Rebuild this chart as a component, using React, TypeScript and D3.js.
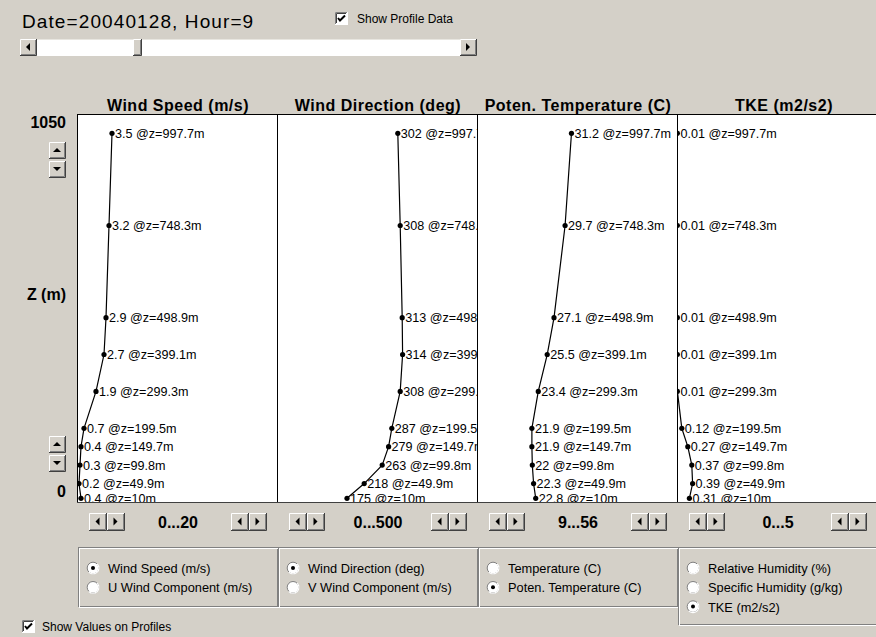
import React from "react";
import * as d3 from "d3";

const HEIGHTS = [997.7, 748.3, 498.9, 399.1, 299.3, 199.5, 149.7, 99.8, 49.9, 10];
const WIND_SPEED = [3.5, 3.2, 2.9, 2.7, 1.9, 0.7, 0.4, 0.3, 0.2, 0.4];
const WIND_DIR = [302, 308, 313, 314, 308, 287, 279, 263, 218, 175];
const POTEN_TEMP = [31.2, 29.7, 27.1, 25.5, 23.4, 21.9, 21.9, 22, 22.3, 22.8];
const TKE = [0.01, 0.01, 0.01, 0.01, 0.01, 0.12, 0.27, 0.37, 0.39, 0.31];

const PANEL_TITLES = ["Wind Speed (m/s)", "Wind Direction (deg)", "Poten. Temperature (C)", "TKE (m2/s2)"];
const RANGE_LABELS = ["0...20", "0...500", "9...56", "0...5"];
const DOMAINS: [number, number][] = [[0, 20], [0, 500], [9, 56], [0, 5]];
const SERIES = [WIND_SPEED, WIND_DIR, POTEN_TEMP, TKE];
const Z_MIN = 0;
const Z_MAX = 1050;

const RADIO_GROUPS = [
  ["Wind Speed (m/s)", "U Wind Component (m/s)"],
  ["Wind Direction (deg)", "V Wind Component (m/s)"],
  ["Temperature (C)", "Poten. Temperature (C)"],
  ["Relative Humidity (%)", "Specific Humidity (g/kg)", "TKE (m2/s2)"],
];
const RADIO_SELECTED = [0, 0, 1, 2];

const FONT = "'Liberation Sans', Arial, sans-serif";
const FACE = "#d4d0c8";

const PANEL_LEFT = 77;
const PANEL_W = 200;
const PANEL_TOP = 114;
const PANEL_BOTTOM = 502;

function Raised({ x, y, w, h }: { x: number; y: number; w: number; h: number }) {
  return (
    <g>
      <rect x={x} y={y} width={w} height={h} fill={FACE} />
      <path d={`M${x + 0.5},${y + h - 1} V${y + 0.5} H${x + w - 1}`} stroke="#fff" fill="none" />
      <path d={`M${x},${y + h - 0.5} H${x + w - 0.5} V${y}`} stroke="#404040" fill="none" />
      <path d={`M${x + 1},${y + h - 1.5} H${x + w - 1.5} V${y + 1}`} stroke="#808080" fill="none" />
    </g>
  );
}

function ArrowBtn({ x, y, w, h, dir }: { x: number; y: number; w: number; h: number; dir: string }) {
  const cx = x + w / 2 - 0.5;
  const cy = y + h / 2 - 0.5;
  let d = "";
  if (dir === "left") d = `M${cx - 2},${cy} L${cx + 2},${cy - 4} L${cx + 2},${cy + 4} Z`;
  if (dir === "right") d = `M${cx + 2},${cy} L${cx - 2},${cy - 4} L${cx - 2},${cy + 4} Z`;
  if (dir === "up") d = `M${cx},${cy - 2} L${cx - 4},${cy + 2} L${cx + 4},${cy + 2} Z`;
  if (dir === "down") d = `M${cx},${cy + 2} L${cx - 4},${cy - 2} L${cx + 4},${cy - 2} Z`;
  return (
    <g>
      <Raised x={x} y={y} w={w} h={h} />
      <path d={d} fill="#000" />
    </g>
  );
}

function CheckBox({ x, y }: { x: number; y: number }) {
  return (
    <g>
      <rect x={x} y={y} width={13} height={13} fill="#fff" />
      <path d={`M${x + 0.5},${y + 12} V${y + 0.5} H${x + 12}`} stroke="#808080" fill="none" />
      <path d={`M${x + 1.5},${y + 11} V${y + 1.5} H${x + 11}`} stroke="#404040" fill="none" />
      <path d={`M${x + 3},${y + 6} L${x + 5},${y + 8.5} L${x + 10},${y + 3.5}`} stroke="#000" strokeWidth={2} fill="none" />
    </g>
  );
}

function Radio({ cx, cy, on }: { cx: number; cy: number; on: boolean }) {
  return (
    <g>
      <circle cx={cx} cy={cy} r={5.8} fill="#fff" stroke="#808080" />
      <path d={`M${cx - 4.2},${cy + 4.2} A5.8,5.8 0 0 0 ${cx + 4.2},${cy - 4.2}`} stroke="#fff" fill="none" strokeWidth={1.2} />
      {on && <circle cx={cx} cy={cy} r={2} fill="#000" />}
    </g>
  );
}

export default function App() {
  const y = d3.scaleLinear().domain([Z_MIN, Z_MAX]).range([PANEL_BOTTOM, PANEL_TOP]);
  const panels = SERIES.map((vals, i) => {
    const left = PANEL_LEFT + i * PANEL_W;
    const x = d3.scaleLinear().domain(DOMAINS[i]).range([left, left + PANEL_W]);
    const pts = vals.map((v, j) => [x(v), y(HEIGHTS[j])] as [number, number]);
    const line = d3.line()(pts) || "";
    return { left, x, vals, pts, line };
  });

  return (
    <svg width={876} height={637} style={{ position: "absolute", left: 0, top: 0, display: "block" }} fontFamily={FONT}>
      <rect x={0} y={0} width={876} height={637} fill={FACE} />

      {/* header */}
      <text x={22} y={28} fontSize={19} letterSpacing={1.1} fill="#000">Date=20040128, Hour=9</text>
      <CheckBox x={335} y={12} />
      <text x={357} y={23} fontSize={12} fill="#000">Show Profile Data</text>

      {/* scrollbar */}
      <rect x={20} y={39} width={457} height={17} fill="#fff" />
      <line x1={20} x2={477} y1={39.5} y2={39.5} stroke="#e8e6e0" />
      <ArrowBtn x={20} y={39} w={17} h={17} dir="left" />
      <Raised x={133} y={39} w={9} h={17} />
      <ArrowBtn x={460} y={39} w={17} h={17} dir="right" />

      {/* panel titles */}
      {PANEL_TITLES.map((t, i) => (
        <text key={t} x={PANEL_LEFT + i * PANEL_W + 101 + (i === 3 ? 6 : 0)} y={111} textAnchor="middle" fontSize={16} fontWeight="bold" letterSpacing={0.5} fill="#000">{t}</text>
      ))}

      {/* y axis labels */}
      <text x={66} y={128} textAnchor="end" fontSize={16} fontWeight="bold">{Z_MAX}</text>
      <text x={66} y={497} textAnchor="end" fontSize={16} fontWeight="bold">{Z_MIN}</text>
      <text x={66} y={300} textAnchor="end" fontSize={16} fontWeight="bold">Z (m)</text>
      <ArrowBtn x={49} y={142} w={17} h={17} dir="up" />
      <ArrowBtn x={49} y={161} w={17} h={17} dir="down" />
      <ArrowBtn x={49} y={436} w={17} h={17} dir="up" />
      <ArrowBtn x={49} y={455} w={17} h={17} dir="down" />

      <defs>
        {panels.map((p, i) => (
          <clipPath id={`clip${i}`} key={i}>
            <rect x={p.left + 1} y={PANEL_TOP + 1} width={PANEL_W - 1} height={PANEL_BOTTOM - PANEL_TOP - 1} />
          </clipPath>
        ))}
      </defs>

      {/* panels */}
      {panels.map((p, i) => (
        <g key={i}>
          <rect x={p.left + 0.5} y={PANEL_TOP + 0.5} width={PANEL_W} height={PANEL_BOTTOM - PANEL_TOP} fill="#fff" stroke="#000" />
          <g clipPath={`url(#clip${i})`}>
            <path d={p.line} fill="none" stroke="#000" strokeWidth={1.2} />
            {p.pts.map((pt, j) => (
              <g key={j}>
                <circle cx={pt[0]} cy={pt[1]} r={2.6} fill="#000" />
                <text x={pt[0] + 3} y={pt[1] + 4.5} fontSize={12.6} fill="#000">{`${p.vals[j]} @z=${HEIGHTS[j]}m`}</text>
              </g>
            ))}
          </g>
        </g>
      ))}
      <line x1={PANEL_LEFT} x2={876} y1={PANEL_BOTTOM + 0.5} y2={PANEL_BOTTOM + 0.5} stroke="#404040" />

      {/* range controls */}
      {panels.map((p, i) => (
        <g key={i}>
          <ArrowBtn x={p.left + 12} y={513} w={18} h={18} dir="left" />
          <ArrowBtn x={p.left + 30} y={513} w={18} h={18} dir="right" />
          <text x={p.left + 101} y={528} textAnchor="middle" fontSize={16} fontWeight="bold">{RANGE_LABELS[i]}</text>
          <ArrowBtn x={p.left + 154} y={513} w={18} h={18} dir="left" />
          <ArrowBtn x={p.left + 172} y={513} w={18} h={18} dir="right" />
        </g>
      ))}

      {/* radio groups */}
      {RADIO_GROUPS.map((items, i) => {
        const left = PANEL_LEFT + 1 + i * PANEL_W;
        const h = items.length === 3 ? 77 : 59;
        return (
          <g key={i}>
            <rect x={left + 0.5} y={547.5} width={PANEL_W - 1} height={h} fill="none" stroke="#808080" />
            <rect x={left + 1.5} y={548.5} width={PANEL_W - 1} height={h} fill="none" stroke="#fff" />
            {items.map((t, j) => (
              <g key={t}>
                <Radio cx={left + 15} cy={568 + j * 19.3} on={RADIO_SELECTED[i] === j} />
                <text x={left + 30} y={573 + j * 19.3} fontSize={12.8} fill="#000">{t}</text>
              </g>
            ))}
          </g>
        );
      })}

      {/* footer checkbox */}
      <CheckBox x={22} y={620} />
      <text x={42} y={631} fontSize={12} fill="#000">Show Values on Profiles</text>
    </svg>
  );
}
